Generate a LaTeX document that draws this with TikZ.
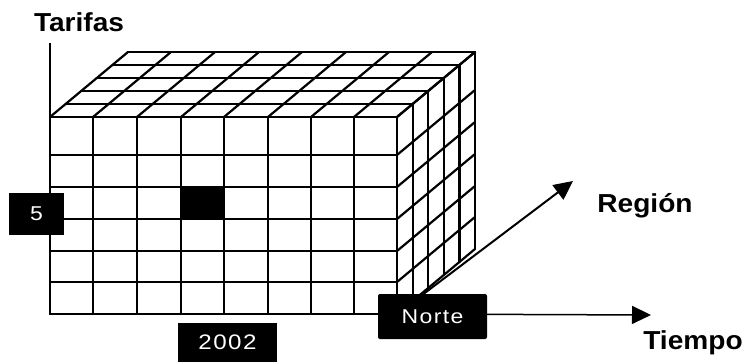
\documentclass[tikz,border=0pt]{standalone}
\usepackage{fontspec}
\setmainfont{Liberation Sans}
\newfontfamily\axisfont[FakeStretch=1.08]{Liberation Sans}
\newfontfamily\tagfont[FakeStretch=1.15,LetterSpace=7]{Liberation Sans}
\usepackage{tikz}
\usetikzlibrary{arrows.meta}

\begin{document}
\begin{tikzpicture}[x=1pt,y=-1pt,
  cubeline/.style={line width=2.2pt,line cap=round,line join=round},
  tag/.style={fill=black,text=white,inner sep=0pt,font=\tagfont\fontsize{20}{22}\selectfont},
  axislab/.style={font=\axisfont\bfseries\fontsize{26}{30}\selectfont},
  axisarrow/.style={-{Triangle[length=19pt,width=18pt]}}
]
\useasboundingbox (0,0) rectangle (745,364);
\coordinate (ftl) at (50,117);
\coordinate (fbr) at (397,314);
\coordinate (ttop) at (50,43);
\coordinate (ttip) at (651,315);
\coordinate (rtip) at (573,181);

% highlighted cell
\fill (181,187) rectangle (224,219);

% front face
\foreach \y in {117,155,187,219,251,282,314}
  \draw[cubeline] (50,\y) -- (397,\y);
\foreach \x in {50,93,137,181,224,268,311,354,397}
  \draw[cubeline] (\x,117) -- (\x,314);
% top face
\foreach \k in {1,...,5}
  \draw[cubeline] ({50+15.6*\k},{117-13*\k}) -- ({397+15.6*\k},{117-13*\k});
\foreach \x in {50,93,137,181,224,268,311,354,397}
  \draw[cubeline] (\x,117) -- ++(78,-65);
% right face
\foreach \k in {1,...,5}
  \draw[cubeline] ({397+15.6*\k},{117-13*\k}) -- ++(0,197);
\foreach \y in {117,155,187,219,251,282,314}
  \draw[cubeline] (397,\y) -- ++(78,-65);

% axes
\draw[line width=1.2pt] (ftl) -- (ttop);
\draw[axisarrow,line width=1.5pt] (fbr) -- (ttip);
\draw[axisarrow,line width=2pt] (fbr) -- (rtip);

\node[axislab] (tarifas) at (79,22) {Tarifas};
\node[axislab] (region) at (645,206) {Región};
\node[axislab] (tiempo) at (693,343) {Tiempo};

\node[tag,minimum width=55pt,minimum height=42pt] (val) at (36.5,214) {5};
\node[tag,minimum width=99pt,minimum height=39pt,font=\tagfont\fontsize{21}{22}\selectfont] (year) at (227.5,342.5) {2002};
\node[tag,minimum width=109pt,minimum height=45pt,rounded corners=2pt] (zone) at (432.5,316.5) {Norte};
\end{tikzpicture}
\end{document}
